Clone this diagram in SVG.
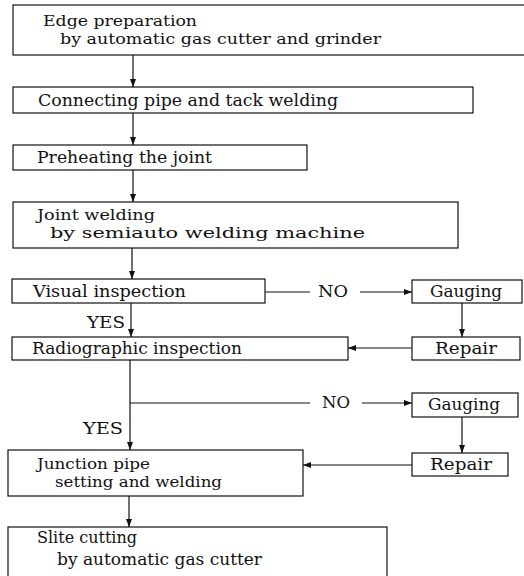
<svg xmlns="http://www.w3.org/2000/svg" width="524" height="576" viewBox="0 0 524 576">
<style>
.box{fill:#fff;stroke:#111;stroke-width:1.2}
.ln{fill:none;stroke:#111;stroke-width:1.2}
text{font-family:"DejaVu Serif","Liberation Serif",serif;font-size:16px;fill:#111}
.two{font-size:15px}
</style>
<defs>
<marker id="ah" viewBox="0 0 8 6" refX="8" refY="3" markerWidth="8" markerHeight="6" orient="auto" markerUnits="userSpaceOnUse">
<path d="M0,0 L8,3 L0,6 Z" fill="#111"/>
</marker>
</defs>
<rect width="524" height="576" fill="#fff"/>
<g id="connectors">
<line class="ln" x1="133" y1="55" x2="133" y2="87" marker-end="url(#ah)"/>
<line class="ln" x1="133" y1="113" x2="133" y2="145" marker-end="url(#ah)"/>
<line class="ln" x1="133" y1="170" x2="133" y2="202" marker-end="url(#ah)"/>
<line class="ln" x1="132" y1="248" x2="132" y2="279" marker-end="url(#ah)"/>
<line class="ln" x1="131" y1="303" x2="131" y2="337" marker-end="url(#ah)"/>
<line class="ln" x1="265" y1="292" x2="310" y2="292"/>
<line class="ln" x1="360" y1="292" x2="412" y2="292" marker-end="url(#ah)"/>
<line class="ln" x1="462" y1="303" x2="462" y2="337" marker-end="url(#ah)"/>
<line class="ln" x1="412" y1="348" x2="348" y2="348" marker-end="url(#ah)"/>
<line class="ln" x1="130" y1="360" x2="130" y2="450" marker-end="url(#ah)"/>
<line class="ln" x1="130" y1="403" x2="310" y2="403"/>
<line class="ln" x1="362" y1="403" x2="412" y2="403" marker-end="url(#ah)"/>
<line class="ln" x1="462" y1="417" x2="462" y2="453" marker-end="url(#ah)"/>
<line class="ln" x1="412" y1="465" x2="303" y2="465" marker-end="url(#ah)"/>
<line class="ln" x1="129" y1="496" x2="129" y2="527" marker-end="url(#ah)"/>
<text x="318" y="297" textLength="30" lengthAdjust="spacingAndGlyphs">NO</text>
<text x="87" y="328" textLength="38" lengthAdjust="spacingAndGlyphs">YES</text>
<text x="322" y="408" textLength="28" lengthAdjust="spacingAndGlyphs">NO</text>
<text x="83" y="434" textLength="40" lengthAdjust="spacingAndGlyphs">YES</text>
</g>
<g id="edge-preparation">
<rect class="box" x="13" y="5" width="515" height="50"/>
<text class="two" x="43" y="26" textLength="154" lengthAdjust="spacingAndGlyphs">Edge preparation</text>
<text class="two" x="60" y="44" textLength="321" lengthAdjust="spacingAndGlyphs">by automatic gas cutter and grinder</text>
</g>
<g id="connecting-pipe">
<rect class="box" x="13" y="87" width="460" height="26"/>
<text x="38" y="106" textLength="300" lengthAdjust="spacingAndGlyphs">Connecting pipe and tack welding</text>
</g>
<g id="preheating">
<rect class="box" x="13" y="145" width="294" height="25"/>
<text x="37" y="163" textLength="175" lengthAdjust="spacingAndGlyphs">Preheating the joint</text>
</g>
<g id="joint-welding">
<rect class="box" x="13" y="202" width="445" height="46"/>
<text class="two" x="37" y="220" textLength="118" lengthAdjust="spacingAndGlyphs">Joint welding</text>
<text class="two" x="50" y="238" textLength="315" lengthAdjust="spacingAndGlyphs">by semiauto welding machine</text>
</g>
<g id="visual-inspection">
<rect class="box" x="12" y="279" width="253" height="24"/>
<text x="33" y="297" textLength="153" lengthAdjust="spacingAndGlyphs">Visual inspection</text>
</g>
<g id="radiographic-inspection">
<rect class="box" x="12" y="337" width="336" height="23"/>
<text x="32" y="354" textLength="210" lengthAdjust="spacingAndGlyphs">Radiographic inspection</text>
</g>
<g id="gauging-1">
<rect class="box" x="412" y="280" width="110" height="23"/>
<text x="430" y="297" textLength="72" lengthAdjust="spacingAndGlyphs">Gauging</text>
</g>
<g id="repair-1">
<rect class="box" x="412" y="337" width="108" height="23"/>
<text x="435" y="354" textLength="62" lengthAdjust="spacingAndGlyphs">Repair</text>
</g>
<g id="gauging-2">
<rect class="box" x="412" y="393" width="106" height="24"/>
<text x="428" y="410" textLength="72" lengthAdjust="spacingAndGlyphs">Gauging</text>
</g>
<g id="repair-2">
<rect class="box" x="412" y="453" width="96" height="23"/>
<text x="430" y="470" textLength="62" lengthAdjust="spacingAndGlyphs">Repair</text>
</g>
<g id="junction-pipe">
<rect class="box" x="8" y="450" width="295" height="46"/>
<text class="two" x="37" y="469" textLength="113" lengthAdjust="spacingAndGlyphs">Junction pipe</text>
<text class="two" x="55" y="487" textLength="167" lengthAdjust="spacingAndGlyphs">setting and welding</text>
</g>
<g id="slite-cutting">
<rect class="box" x="8" y="527" width="379" height="52"/>
<text x="37" y="543" textLength="100" lengthAdjust="spacingAndGlyphs">Slite cutting</text>
<text x="57" y="565" textLength="205" lengthAdjust="spacingAndGlyphs">by automatic gas cutter</text>
</g>
</svg>
